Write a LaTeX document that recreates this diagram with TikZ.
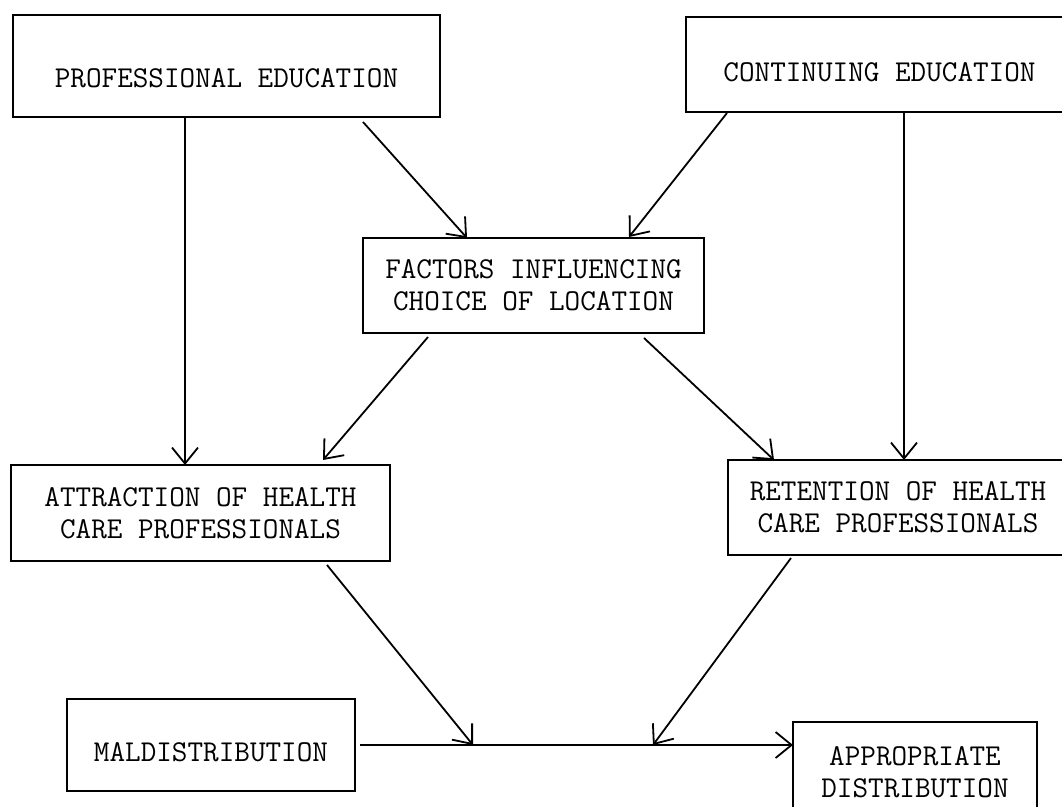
\documentclass[tikz,border=0pt]{standalone}
\usepackage{tikz}
\usetikzlibrary{arrows.meta}
\usetikzlibrary{positioning}

\begin{document}
\begin{tikzpicture}[x=1pt, y=1pt,
    box/.style={rectangle, draw=black, line width=1.9pt, align=center, inner sep=0pt, outer sep=0pt,
      font=\fontsize{30.3}{32}\selectfont\ttfamily},
    flow/.style={-{Straight Barb[length=16pt,width=26pt]}, line width=1.8pt}]
	  \useasboundingbox (0,0) rectangle (1062,-806);
	  \node[box, minimum width=427pt, minimum height=102pt, text height=42pt, text depth=0pt] (profedu) at (226.5,-66) {PROFESSIONAL EDUCATION};
	  \node[box, minimum width=387pt, minimum height=95pt, text height=34pt, text depth=0pt, right=246pt of profedu, yshift=1.5pt] (contedu) {CONTINUING EDUCATION};
	  \node[box, minimum width=341pt, minimum height=95pt, below=121pt of profedu, xshift=307pt] (factors) {FACTORS INFLUENCING\\CHOICE OF LOCATION};
	  \node[box, minimum width=379pt, minimum height=96pt, below=348pt of profedu, xshift=-26pt] (attraction) {ATTRACTION OF HEALTH\\CARE PROFESSIONALS};
	  \node[box, minimum width=340pt, minimum height=95pt, right=338pt of attraction, yshift=5.5pt] (retention) {RETENTION OF HEALTH\\CARE PROFESSIONALS};
	  \node[box, minimum width=288pt, minimum height=92pt, text height=32pt, text depth=0pt, below=138pt of attraction, xshift=10.5pt] (maldist) {MALDISTRIBUTION};
	  \node[box, minimum width=244pt, minimum height=100pt, right=438pt of maldist, yshift=-27pt] (approp) {APPROPRIATE\\DISTRIBUTION};
	  \coordinate[right=118pt of maldist.east] (joina);
	  \coordinate[right=298pt of maldist.east] (joinb);
	  \draw[flow] ([xshift=-41.5pt]profedu.south) -- ([xshift=-41.5pt]profedu.south |- attraction.north);
	  \draw[flow] ([xshift=-77pt,yshift=-5pt]profedu.south east) -- ([xshift=-66.5pt]factors.north);
	  \draw[flow] ([xshift=41pt,yshift=-1pt]contedu.south west) -- ([xshift=95.5pt,yshift=1pt]factors.north);
	  \draw[flow] ([xshift=24.5pt]contedu.south) -- ([xshift=24.5pt]contedu.south |- retention.north);
	  \draw[flow] ([xshift=65pt,yshift=-4pt]factors.south west) -- ([xshift=122.5pt,yshift=5pt]attraction.north);
	  \draw[flow] ([xshift=-60pt,yshift=-5pt]factors.south east) -- ([xshift=-124pt]retention.north);
	  \draw[flow] ([xshift=-63pt,yshift=-4pt]attraction.south east) -- (joina);
	  \draw[flow] ([xshift=-107pt,yshift=-3pt]retention.south) -- (joinb);
	  \draw[flow] ([xshift=5pt]maldist.east) -- (maldist.east -| approp.west);
	\end{tikzpicture}
\end{document}
